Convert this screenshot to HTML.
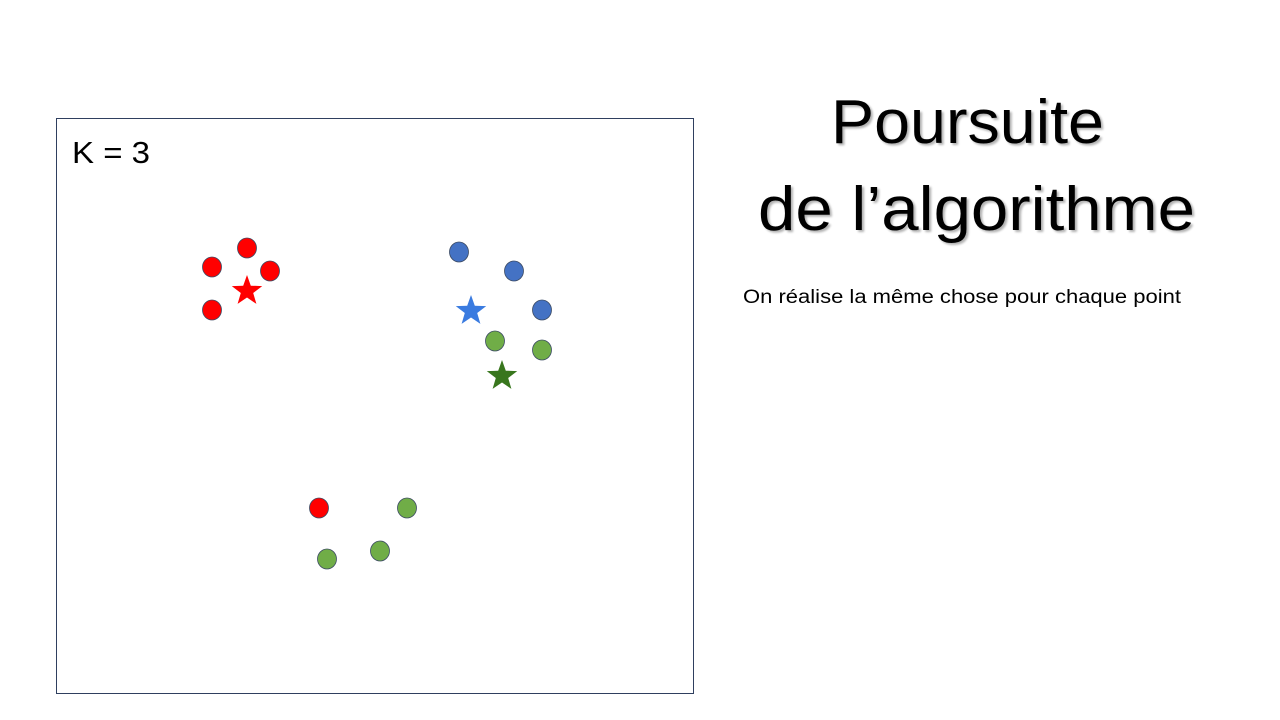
<!DOCTYPE html>
<html><head><meta charset="utf-8"><style>
html,body{margin:0;padding:0;background:#fff;width:1280px;height:720px;overflow:hidden}
svg text{font-family:"Liberation Sans",sans-serif}
</style></head><body>
<svg id="chart" width="1280" height="720" viewBox="0 0 1280 720" xmlns="http://www.w3.org/2000/svg">
<rect x="56.5" y="118.5" width="637" height="575" fill="#fff" stroke="#2f3f5f" stroke-width="1"/>
<text x="72" y="163" font-size="31" textLength="78" lengthAdjust="spacingAndGlyphs" fill="#000">K = 3</text>
<g id="marks"></g>
<text x="831" y="143" font-size="62" textLength="273" lengthAdjust="spacingAndGlyphs" fill="#000" style="text-shadow:2px 2px 2px rgba(0,0,0,0.3)">Poursuite</text>
<text x="758" y="230" font-size="62" textLength="437" lengthAdjust="spacingAndGlyphs" fill="#000" style="text-shadow:2px 2px 2px rgba(0,0,0,0.3)">de l’algorithme</text>
<text x="743" y="303" font-size="19" textLength="438" lengthAdjust="spacingAndGlyphs" fill="#000">On réalise la même chose pour chaque point</text>
</svg>
<script>
// data coordinates relative to frame origin (56,118)
const pointX = [156,191,214,156,263, 403,458,486, 439,486,351,324,271];
const pointY = [149,130,153,192,390, 134,153,192, 223,232,390,433,441];
const pointCluster = ['red','red','red','red','red','blue','blue','blue','green','green','green','green','green'];
const centroidX = [191,415,446];
const centroidY = [173,193,258];
const centroidCluster = ['red','blue','green'];
const pointColors = {red:'#ff0000',blue:'#4472c4',green:'#70ad47'};
const starColors = {red:'#ff0000',blue:'#3a7be0',green:'#38761d'};
function sx(v){return 56+v;}
function sy(v){return 118+v;}
const ns='http://www.w3.org/2000/svg';
const g=document.getElementById('marks');
pointX.forEach((v,i)=>{
  const e=document.createElementNS(ns,'ellipse');
  e.setAttribute('cx',sx(v));e.setAttribute('cy',sy(pointY[i]));
  e.setAttribute('rx',9.5);e.setAttribute('ry',10);
  e.setAttribute('fill',pointColors[pointCluster[i]]);
  e.setAttribute('stroke','#3b4a63');e.setAttribute('stroke-width','0.8');
  
  
  g.appendChild(e);
});
centroidX.forEach((v,i)=>{
  const cx=sx(v),cy=sy(centroidY[i]);let pts=[];
  for(let k=0;k<10;k++){const r=k%2?6.5:16;const a=-Math.PI/2+k*Math.PI/5;pts.push((cx+r*Math.cos(a)).toFixed(1)+','+(cy+r*Math.sin(a)).toFixed(1));}
  const p=document.createElementNS(ns,'polygon');
  p.setAttribute('points',pts.join(' '));
  p.setAttribute('fill',starColors[centroidCluster[i]]);
  
  
  g.appendChild(p);
});
</script>
</body></html>
